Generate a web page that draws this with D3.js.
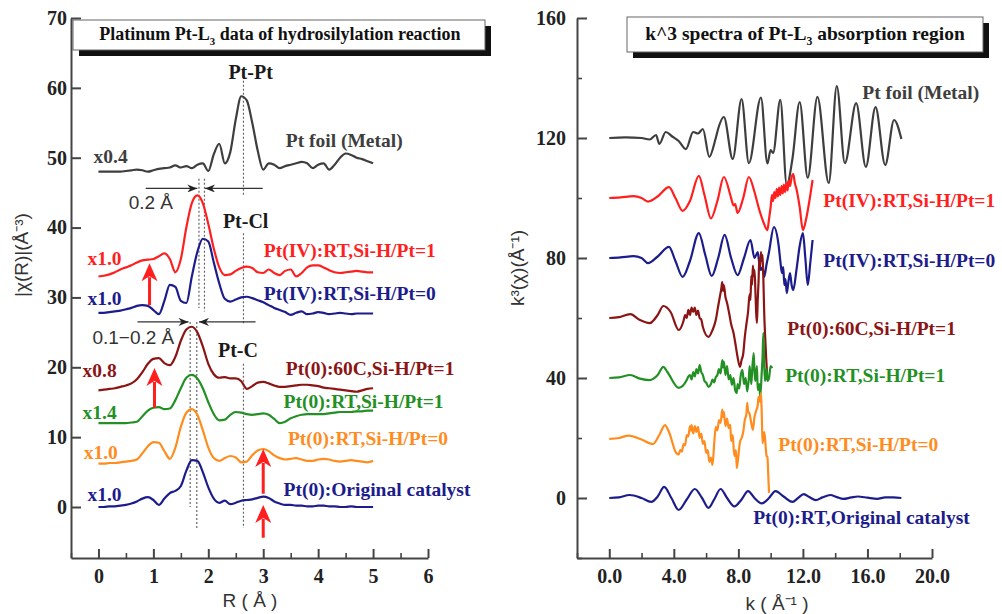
<!DOCTYPE html>
<html>
<head>
<meta charset="utf-8">
<script src="https://cdn.jsdelivr.net/npm/d3@7"></script>
<style>
  body { margin: 0; background: #fff; }
  text { font-family: "Liberation Serif", "Times New Roman", serif; }
  .lbl { font-weight: bold; font-size: 19.5px; }
  .tick text { font-family: "Liberation Serif", serif; font-weight: bold; font-size: 20px; fill: #222; }
  .ax path, .ax line { stroke: #444; stroke-width: 2; }
  .minor line { stroke: #444; stroke-width: 1.6; }
  .minor path { display: none; }
  .sans { font-family: "Liberation Sans", Arial, sans-serif; fill: #333; font-size: 19px; }
</style>
</head>
<body>
<svg id="chart" width="1002" height="614"></svg>
<script>
// ---------- colours
var cGray = "#3e3e3e", cRed = "#ff1f1f", cNavy = "#1c1c8c",
    cDark = "#8b1414", cGreen = "#239023", cOrange = "#ff8c1e";

// ---------- left panel: |chi(R)|, sampled every 0.1 A
var rGrid = [0,0.1,0.2,0.3,0.4,0.5,0.6,0.7,0.8,0.9,1.0,1.1,1.2,1.3,1.4,1.5,1.6,1.7,1.8,1.9,2.0,
             2.1,2.2,2.3,2.4,2.5,2.6,2.7,2.8,2.9,3.0,3.1,3.2,3.3,3.4,3.5,3.6,3.7,3.8,3.9,4.0,
             4.1,4.2,4.3,4.4,4.5,4.6,4.7,4.8,4.9,5.0];

var ftFoil = [48.0,48.0,48.0,48.0,48.0,48.1,48.2,48.3,48.2,48.0,48.2,48.4,48.5,48.6,48.9,48.6,48.8,48.5,49.0,49.2,48.1,
              50.5,52.0,49.2,50.8,55.5,58.8,58.2,55.0,51.0,48.3,49.2,49.0,48.5,48.8,49.0,49.2,49.4,49.2,48.5,49.0,
              49.2,48.3,49.0,50.0,50.6,50.4,50.0,49.8,49.5,49.2];
var ftIV1 = [33.0,33.1,33.3,33.6,34.0,34.3,34.6,35.0,35.3,35.4,35.5,35.9,36.3,35.5,33.6,35.5,40.0,43.5,44.6,43.5,40.5,
             37.0,34.3,33.2,33.3,33.8,34.2,34.4,34.2,33.6,33.5,34.0,33.5,33.2,33.8,34.0,33.0,33.5,34.3,34.6,34.6,
             34.3,33.9,33.6,33.5,33.6,33.7,33.8,33.7,33.6,33.6];
var ftIV0 = [27.8,27.8,27.9,28.0,28.1,28.3,28.5,28.8,28.9,28.8,28.2,27.6,29.5,31.8,31.5,29.5,29.2,33.0,36.5,38.4,38.0,
             35.0,32.0,29.8,29.4,29.7,30.0,30.1,29.9,29.6,29.3,28.9,28.5,28.2,27.9,27.5,27.8,28.0,27.6,27.7,27.9,
             27.8,27.6,27.7,27.8,27.7,27.6,27.7,27.7,27.7,27.7];
var ft60C = [16.7,16.8,16.9,17.0,17.2,17.4,17.7,18.3,19.3,20.5,21.2,21.3,20.6,20.3,21.5,23.8,25.4,25.8,25.0,23.0,20.5,
             19.0,18.5,18.6,18.4,18.4,18.0,16.9,17.3,17.8,17.9,17.7,17.4,17.2,17.2,17.3,17.4,17.5,17.5,17.4,17.3,
             17.1,17.0,16.9,16.8,16.7,16.6,16.5,16.7,16.9,17.0];
var ftRT1 = [12.0,12.0,12.0,12.0,12.0,12.0,12.1,12.2,13.0,13.8,14.2,14.3,14.0,14.1,15.3,17.0,18.5,18.9,18.4,17.0,15.0,
             13.3,12.4,12.5,13.2,13.6,13.5,13.3,13.2,13.3,13.4,13.2,12.6,12.0,12.2,12.7,13.0,13.2,13.3,13.3,13.3,
             13.3,13.4,13.5,13.6,13.6,13.6,13.7,13.7,13.8,13.8];
var ftRT0 = [6.2,6.2,6.3,6.3,6.4,6.5,6.6,6.8,7.7,8.7,9.3,9.2,8.0,6.9,8.5,11.5,13.5,14.0,13.2,11.0,8.5,
             7.0,6.6,7.0,7.3,7.1,6.4,6.5,7.4,8.1,8.3,8.0,7.4,7.0,6.8,6.9,7.0,6.8,6.6,6.6,6.8,
             6.9,6.8,6.6,6.5,6.6,6.7,6.6,6.5,6.4,6.6];
var ftOrig = [0,0,0.1,0.1,0.2,0.3,0.5,0.8,1.2,1.4,1.0,0.3,1.2,2.0,2.3,3.0,5.2,6.7,6.6,5.0,2.8,
              1.2,0.6,0.9,0.4,0.6,0.9,1.0,1.1,1.3,1.5,1.3,0.8,0.5,0.3,0.3,0.2,0.2,0.1,0.1,0.2,
              0.2,0.1,0.1,0,0,0.1,0,0,0,0];

var leftSeries = [
  {vals: ftFoil, color: cGray, name: "Pt foil (Metal)", nameAt: [3.41, 52.5], scale: "x0.4", scaleAt: [-0.09, 50.2]},
  {vals: ftIV1, color: cRed, name: "Pt(IV):RT,Si-H/Pt=1", nameAt: [3.01, 36.8], scale: "x1.0", scaleAt: [-0.2, 35.6]},
  {vals: ftIV0, color: cNavy, name: "Pt(IV):RT,Si-H/Pt=0", nameAt: [3.01, 30.6], scale: "x1.0", scaleAt: [-0.2, 29.9]},
  {vals: ft60C, color: cDark, name: "Pt(0):60C,Si-H/Pt=1", nameAt: [3.41, 19.9], scale: "x0.8", scaleAt: [-0.29, 19.6]},
  {vals: ftRT1, color: cGreen, name: "Pt(0):RT,Si-H/Pt=1", nameAt: [3.37, 15.2], scale: "x1.4", scaleAt: [-0.29, 13.6]},
  {vals: ftRT0, color: cOrange, name: "Pt(0):RT,Si-H/Pt=0", nameAt: [3.45, 9.9], scale: "x1.0", scaleAt: [-0.27, 7.9]},
  {vals: ftOrig, color: cNavy, name: "Pt(0):Original catalyst", nameAt: [3.37, 2.6], scale: "x1.0", scaleAt: [-0.2, 1.9]}
];

var xTicksL = [0, 1, 2, 3, 4, 5, 6];
var xMinorL = [-0.5, 0.5, 1.5, 2.5, 3.5, 4.5, 5.5];
var yTicksL = [0, 10, 20, 30, 40, 50, 60, 70];

// ---------- right panel: k^3 chi(k)
var kFoil = [0,1.0,2.0,2.5,2.9,3.1,3.5,3.9,4.3,4.75,5.2,5.5,5.8,6.2,6.6,6.8,7.1,7.65,8.2,8.65,9.4,9.8,10.0,10.15,
             10.6,11.0,11.35,11.8,12.3,12.9,13.6,14.1,14.6,15.3,15.9,16.5,17.1,17.65,18.1];
var vFoil = [120,120.2,120,119.5,121,118,122,120.5,119,116.3,122,121.5,123,113.7,120,124,127,113,133,111.6,133.5,111.5,116,115,
             132.7,104.3,113,132,106.7,133.7,105,137.3,111.6,131.6,110.4,130.3,111,126,119.7];

var kIV1 = [0,0.7,1.5,2.0,2.4,3.0,3.7,4.1,4.55,5.0,5.55,5.9,6.3,6.7,7.1,7.5,7.6,7.7,7.8,7.95,8.3,8.65,9.0,9.3,9.55,9.8,
            9.9,10.0,10.08,10.15,10.22,10.3,10.38,10.45,10.52,10.6,10.68,10.75,10.82,10.9,10.98,11.05,11.12,11.2,11.3,11.4,
            11.5,11.6,11.8,12.0,12.2,12.4,12.6];
var vIV1 = [100,100.2,100.6,100,98.8,100.5,103.6,100,95.7,99,107.4,101,93.2,99,107,101,99,97.5,98,95,100,107,102,96,92,89.3,
            93,97,101,99,102,100,103,100.5,103.5,101,104,101.5,104.5,102,105,102.5,106,104,107,108,
            105,103,97,89.3,93,99,106];

var kIV0 = [0,0.7,1.5,2.0,2.4,3.0,3.7,4.1,4.55,5.0,5.55,5.95,6.35,6.75,7.15,7.55,7.95,8.35,8.75,9.0,9.2,9.3,9.4,9.5,9.6,9.75,9.9,
            10.2,10.5,10.6,10.7,10.78,10.85,10.92,11.0,11.1,11.2,11.3,11.4,11.6,11.8,12.0,12.15,12.3,12.45,12.6];
var vIV0 = [80,80.2,80.6,80,78.3,80.5,83.7,79,73.7,79,88.3,81,74,80,87.7,80,74.3,80,86,80,82,78,76,77,73.7,78,82,
            90.3,84,79,75,77,71,73,68.3,72,75,71,69.3,76,84,88.3,80,71,78,86];

var k60C = [0,0.6,1.3,1.9,2.5,3.0,3.35,3.8,4.3,4.6,4.7,4.8,4.9,5.0,5.1,5.2,5.3,5.4,5.5,5.6,5.7,5.8,6.15,6.4,6.6,
            6.75,6.85,6.95,7.0,7.05,7.1,7.2,7.3,7.45,7.55,7.7,7.8,7.95,8.1,8.2,8.3,8.4,8.5,8.6,8.7,8.75,8.8,8.85,
            8.9,8.95,9.0,9.05,9.1,9.15,9.2,9.25,9.3,9.35,9.4,9.45,9.5,9.55,9.6,9.65,9.72,9.8];
var v60C = [60,60.3,61.3,59.3,58.3,61,64,62,56,59,61,60,62.7,61,63.5,62,63.5,61,62.5,60,59.5,57,53.7,56,59.3,
            64,67,70,72,69,71,67,65,61,58,55,52,47,43.7,46,48,53.7,58,62,68,66,74,71,
            77.5,74,76,70,62,58.3,66,72,80,77,82,79,81,73,62,55,47,39.3];

var kRT1 = [0,0.6,1.3,1.9,2.5,3.0,3.35,3.6,4.3,4.8,4.9,5.0,5.1,5.2,5.3,5.4,5.5,5.6,5.7,5.8,5.9,6.0,6.15,6.3,6.4,6.5,
            6.6,6.7,6.8,6.9,7.0,7.05,7.1,7.2,7.3,7.4,7.5,7.6,7.7,7.8,7.9,7.95,8.05,8.15,8.25,8.35,8.45,8.55,8.65,
            8.7,8.8,8.85,8.95,9.0,9.05,9.15,9.2,9.3,9.35,9.45,9.5,9.55,9.6,9.65,9.7,9.75,9.8,9.9,10.0,10.1];
var vRT1 = [40,40.2,41,39.8,39.3,41,43.7,42,36.7,39.3,40.5,41,39.5,42,40.5,43,41.5,44.3,42,41,39,38.5,37,38,39.5,38.5,
            40.3,41,43,41.5,46,43.5,45.5,41,44,39.5,41,37.7,40,36,35,38,36.5,41,42.7,38,40,35.5,40,
            44,38,42,48.3,42,39,44,36,38,33.7,42,47,55,45,39,42,43,39,40,44,43.3];

var kRT0 = [0,0.6,1.2,2.0,2.7,3.1,3.45,3.7,4.15,4.3,4.4,4.5,4.6,4.7,4.8,4.9,5.0,5.05,5.1,5.2,5.3,5.4,5.5,5.6,5.7,5.8,
            5.9,6.0,6.1,6.2,6.3,6.4,6.5,6.6,6.7,6.8,6.9,7.0,7.05,7.1,7.2,7.3,7.4,7.5,7.55,7.65,7.75,7.85,7.9,8.0,
            8.1,8.2,8.3,8.4,8.5,8.55,8.6,8.7,8.8,8.9,9.0,9.1,9.2,9.25,9.35,9.4,9.45,9.5,9.6,9.65,9.75,9.8,9.85,9.9];
var vRT0 = [19.7,20,20.8,19.5,18,21,24.3,22,15,14.5,16,15.5,18,17.5,21,20.5,24,22.5,24.3,21.5,24,22,23.7,20,21.5,18,
            19,15,16,12,13.5,11,18,23.7,22.5,26,25,29.5,27,28.7,24,26.5,23.3,24.5,19,21,14,16,10,14,
            18.7,20,22,26,28,31.7,29,28,25,22.7,27,29,31,33.7,32,35,28,18.3,22,20,14,13.7,8,1.7];

var kOrig = [0,0.6,1.25,2.0,2.6,3.0,3.4,3.85,4.3,4.8,5.3,5.75,6.15,6.5,6.9,7.3,7.75,8.2,8.6,9.0,9.45,9.9,10.3,10.8,
             11.35,11.7,12.05,12.4,12.8,13.2,13.7,14.1,14.5,15.0,15.4,16.0,16.6,17.1,17.6,18.1];
var vOrig = [0,0.2,1,0,-1.3,0.5,3.7,0,-4,-0.5,3,0,-3.3,-0.5,3,0,-2.8,-0.5,2.3,0,-1.8,0,2.3,0.5,
             -1.3,0,1.3,0.3,-0.7,0.2,1,0.3,-0.3,0.2,0.5,0.1,-0.3,0.2,0.2,0];

var rightSeries = [
  {k: kFoil, v: vFoil, color: cGray, name: "Pt foil (Metal)", nameAt: [15.68, 135.3]},
  {k: kIV1, v: vIV1, color: cRed, name: "Pt(IV):RT,Si-H/Pt=1", nameAt: [13.26, 99.3]},
  {k: kIV0, v: vIV0, color: cNavy, name: "Pt(IV):RT,Si-H/Pt=0", nameAt: [13.26, 79.3]},
  {k: k60C, v: v60C, color: cDark, name: "Pt(0):60C,Si-H/Pt=1", nameAt: [11.03, 56.7]},
  {k: kRT1, v: vRT1, color: cGreen, name: "Pt(0):RT,Si-H/Pt=1", nameAt: [10.9, 41]},
  {k: kRT0, v: vRT0, color: cOrange, name: "Pt(0):RT,Si-H/Pt=0", nameAt: [10.47, 18]},
  {k: kOrig, v: vOrig, color: cNavy, name: "Pt(0):RT,Original catalyst", nameAt: [8.92, -6.3]}
];

var xTicksR = [0, 4, 8, 12, 16, 20];
var xMinorR = [-2, 2, 6, 10, 14, 18];
var yTicksR = [0, 40, 80, 120, 160];
var yMinorR = [-20, 20, 60, 100, 140];

var svg = d3.select("#chart");

// arrowhead for the black distance arrows
svg.append("defs").append("marker")
    .attr("id", "blk")
    .attr("viewBox", "0 0 10 8")
    .attr("refX", 10).attr("refY", 4)
    .attr("markerWidth", 11).attr("markerHeight", 8)
    .attr("markerUnits", "userSpaceOnUse")
    .attr("orient", "auto")
    .append("path")
    .attr("d", "M0,0 L10,4 L0,8 L3,4 Z")
    .attr("fill", "#222");

function titleBox(x, y, w, h, parts, cx, by, size) {
    svg.append("rect").attr("x", x + 6).attr("y", y + 6).attr("width", w).attr("height", h).attr("fill", "#111");
    svg.append("rect").attr("x", x).attr("y", y).attr("width", w).attr("height", h)
        .attr("fill", "#fff").attr("stroke", "#666").attr("stroke-width", 1);
    var t = svg.append("text").attr("x", cx).attr("y", by).attr("text-anchor", "middle")
        .attr("font-weight", "bold").attr("font-size", size).attr("fill", "#111");
    t.append("tspan").text(parts[0]);
    t.append("tspan").attr("font-size", size * 0.6).attr("dy", 5).text("3");
    t.append("tspan").attr("dy", -5).text(parts[1]);
}

function redArrow(g, x, yBase, yTip) {
    var head = 18, hw = 8;
    g.append("line")
        .attr("x1", x).attr("x2", x).attr("y1", yBase).attr("y2", yTip + head - 4)
        .attr("stroke", cRed).attr("stroke-width", 3);
    g.append("path")
        .attr("d", "M" + x + "," + yTip + " L" + (x - hw) + "," + (yTip + head) +
                   " L" + x + "," + (yTip + head - 5) + " L" + (x + hw) + "," + (yTip + head) + " Z")
        .attr("fill", cRed);
}

// ================= LEFT PANEL
var xL = d3.scaleLinear().domain([-0.5, 6]).range([71, 428]);
var yL = d3.scaleLinear().domain([-7.3, 70]).range([558, 18]);

var gL = svg.append("g");

gL.append("g").attr("class", "ax").attr("transform", "translate(0,558)")
    .call(d3.axisBottom(xL).tickValues(xTicksL).tickSizeInner(-9).tickSizeOuter(0).tickPadding(11)
        .tickFormat(d3.format("d")));
gL.append("g").attr("class", "minor").attr("transform", "translate(0,558)")
    .call(d3.axisBottom(xL).tickValues(xMinorL).tickSizeInner(-5).tickSizeOuter(0).tickFormat(""));
gL.append("g").attr("class", "ax").attr("transform", "translate(71,0)")
    .call(d3.axisLeft(yL).tickValues(yTicksL).tickSizeInner(-10).tickSizeOuter(0).tickPadding(4)
        .tickFormat(d3.format("d")));

titleBox(73, 20, 412, 30, ["Platinum Pt-L", " data of hydrosilylation reaction"], 280, 40, 18);

// dotted guide lines
var dotsL = [
  {r: 1.83, v0: 47, v1: 28.5}, {r: 1.93, v0: 47, v1: 28},
  {r: 1.67, v0: 26.5, v1: 0}, {r: 1.79, v0: 26.5, v1: -3},
  {r: 2.64, v0: 61, v1: 44.5}, {r: 2.64, v0: 39.2, v1: 26.2}, {r: 2.64, v0: 20.5, v1: -3}
];
gL.selectAll(".dotl").data(dotsL).enter().append("line")
    .attr("x1", function(d) { return xL(d.r); }).attr("x2", function(d) { return xL(d.r); })
    .attr("y1", function(d) { return yL(d.v0); }).attr("y2", function(d) { return yL(d.v1); })
    .attr("stroke", "#666").attr("stroke-width", 1.2).attr("stroke-dasharray", "2,2");

var lineL = d3.line()
    .x(function(d, i) { return xL(rGrid[i]); })
    .y(function(d) { return yL(d); })
    .curve(d3.curveMonotoneX);

gL.selectAll(".curveL").data(leftSeries).enter().append("path")
    .attr("d", function(d) { return lineL(d.vals); })
    .attr("fill", "none").attr("stroke", function(d) { return d.color; })
    .attr("stroke-width", 2.2).attr("stroke-linejoin", "round");

gL.selectAll(".nameL").data(leftSeries).enter().append("text")
    .attr("class", "lbl")
    .attr("x", function(d) { return xL(d.nameAt[0]); })
    .attr("y", function(d) { return yL(d.nameAt[1]); })
    .attr("dy", "0.35em")
    .attr("fill", function(d) { return d.color; })
    .text(function(d) { return d.name; });

gL.selectAll(".scaleL").data(leftSeries).enter().append("text")
    .attr("class", "lbl")
    .attr("x", function(d) { return xL(d.scaleAt[0]); })
    .attr("y", function(d) { return yL(d.scaleAt[1]); })
    .attr("dy", "0.35em")
    .attr("fill", function(d) { return d.color; })
    .text(function(d) { return d.scale; });

// bond labels
var bondLabels = [{t: "Pt-Pt", r: 2.77, v: 62.2}, {t: "Pt-Cl", r: 2.68, v: 41}, {t: "Pt-C", r: 2.54, v: 22.5}];
gL.selectAll(".bond").data(bondLabels).enter().append("text")
    .attr("class", "lbl")
    .attr("x", function(d) { return xL(d.r); }).attr("y", function(d) { return yL(d.v); })
    .attr("dy", "0.35em").attr("text-anchor", "middle").attr("fill", "#1a1a1a")
    .style("font-size", "20px")
    .text(function(d) { return d.t; });

// distance arrows
var shiftArrows = [
  {from: 0.86, to: 1.80, v: 45.6}, {from: 2.99, to: 1.94, v: 45.6},
  {from: 0.71, to: 1.64, v: 26.5}, {from: 2.86, to: 1.83, v: 26.5}
];
gL.selectAll(".shift").data(shiftArrows).enter().append("line")
    .attr("x1", function(d) { return xL(d.from); }).attr("x2", function(d) { return xL(d.to); })
    .attr("y1", function(d) { return yL(d.v); }).attr("y2", function(d) { return yL(d.v); })
    .attr("stroke", "#333").attr("stroke-width", 1.2).attr("marker-end", "url(#blk)");

gL.append("text").attr("class", "sans").attr("x", xL(0.55)).attr("y", yL(42.6)).text("0.2 Å");
gL.append("text").attr("class", "sans").attr("x", xL(-0.11)).attr("y", yL(23.4)).text("0.1−0.2 Å");

// red arrows
var redArrows = [{r: 0.93, from: 28.9, to: 34.9}, {r: 1.02, from: 14.2, to: 19.9},
                 {r: 3.0, from: 1.9, to: 8.3}, {r: 3.0, from: -4.4, to: 0.3}];
redArrows.forEach(function(a) { redArrow(gL, xL(a.r), yL(a.from), yL(a.to)); });

// axis titles
svg.append("text").attr("class", "sans").attr("x", 250).attr("y", 607).attr("text-anchor", "middle").text("R ( Å )");
svg.append("text").attr("class", "sans").attr("text-anchor", "middle")
    .attr("transform", "translate(28,255) rotate(-90)").text("|χ(R)|(Å⁻³)");

// ================= RIGHT PANEL
var xR = d3.scaleLinear().domain([-2, 20]).range([577, 932]);
var yR = d3.scaleLinear().domain([-20, 160]).range([558, 18]);

var gR = svg.append("g");

gR.append("g").attr("class", "ax").attr("transform", "translate(0,558)")
    .call(d3.axisBottom(xR).tickValues(xTicksR).tickSizeInner(-9).tickSizeOuter(0).tickPadding(11)
        .tickFormat(d3.format(".1f")));
gR.append("g").attr("class", "minor").attr("transform", "translate(0,558)")
    .call(d3.axisBottom(xR).tickValues(xMinorR).tickSizeInner(-5).tickSizeOuter(0).tickFormat(""));
gR.append("g").attr("class", "ax").attr("transform", "translate(577,0)")
    .call(d3.axisLeft(yR).tickValues(yTicksR).tickSizeInner(-10).tickSizeOuter(0).tickPadding(11)
        .tickFormat(d3.format("d")));
gR.append("g").attr("class", "minor").attr("transform", "translate(577,0)")
    .call(d3.axisLeft(yR).tickValues(yMinorR).tickSizeInner(-5).tickSizeOuter(0).tickFormat(""));

titleBox(627, 17, 356, 35, ["k^3 spectra of Pt-L", " absorption region"], 805, 40, 19.5);

var lineR = d3.line()
    .x(function(d) { return xR(d[0]); })
    .y(function(d) { return yR(d[1]); })
    .curve(d3.curveMonotoneX);

gR.selectAll(".curveR").data(rightSeries).enter().append("path")
    .attr("d", function(d) { return lineR(d.k.map(function(k, i) { return [k, d.v[i]]; })); })
    .attr("fill", "none").attr("stroke", function(d) { return d.color; })
    .attr("stroke-width", 2.2).attr("stroke-linejoin", "round");

gR.selectAll(".nameR").data(rightSeries).enter().append("text")
    .attr("class", "lbl")
    .attr("x", function(d) { return xR(d.nameAt[0]); })
    .attr("y", function(d) { return yR(d.nameAt[1]); })
    .attr("dy", "0.35em")
    .attr("fill", function(d) { return d.color; })
    .text(function(d) { return d.name; });

svg.append("text").attr("class", "sans").attr("x", 777).attr("y", 610).attr("text-anchor", "middle").text("k ( Å⁻¹ )");
svg.append("text").attr("class", "sans").attr("text-anchor", "middle")
    .attr("transform", "translate(524,268) rotate(-90)").text("k³(χ)(Å⁻¹)");
</script>
</body>
</html>
